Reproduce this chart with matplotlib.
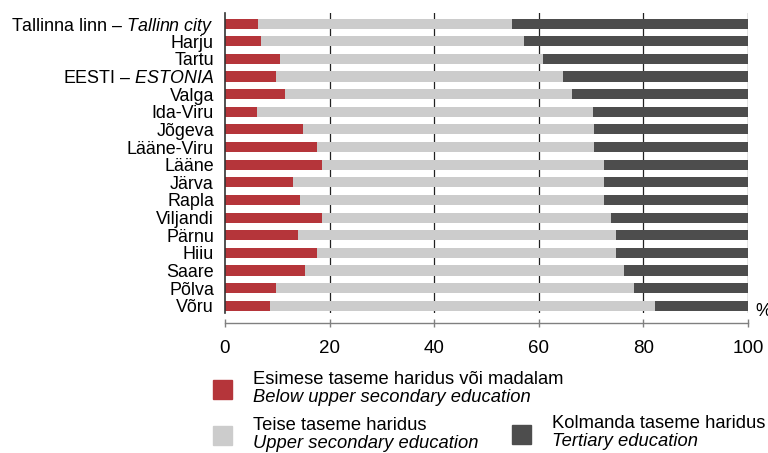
import matplotlib
matplotlib.use("Agg")
import matplotlib.pyplot as plt
from matplotlib.patches import Rectangle
import numpy as np

plt.rcParams['font.family'] = ['Liberation Sans', 'DejaVu Sans']
plt.rcParams['mathtext.fontset'] = 'custom'
plt.rcParams['mathtext.rm'] = 'Liberation Sans'
plt.rcParams['mathtext.it'] = 'Liberation Sans:italic'

# counties, top to bottom
regions = ["Tallinna linn – $\\mathit{Tallinn\\ city}$", "Harju", "Tartu",
           "EESTI – $\\mathit{ESTONIA}$", "Valga", "Ida-Viru", "Jõgeva",
           "Lääne-Viru", "Lääne", "Järva", "Rapla", "Viljandi", "Pärnu",
           "Hiiu", "Saare", "Põlva", "Võru"]

# share of population by education level, %
below_upper = [6.4, 6.9, 10.5, 9.8, 11.5, 6.1, 14.9, 17.6, 18.5, 13.0,
               14.3, 18.5, 14.0, 17.6, 15.3, 9.8, 8.6]
upper_secondary = [48.5, 50.3, 50.3, 54.8, 54.8, 64.3, 55.7, 53.0, 54.0,
                   59.5, 58.2, 55.3, 60.8, 57.2, 61.0, 68.4, 73.6]
tertiary = [100 - a - b for a, b in zip(below_upper, upper_secondary)]

legend_et = ["Esimese taseme haridus või madalam", "Teise taseme haridus",
             "Kolmanda taseme haridus"]
legend_en = ["Below upper secondary education", "Upper secondary education",
             "Tertiary education"]

c_red = '#B5353A'
c_gray = '#CCCCCC'
c_dark = '#4D4D4D'

fig = plt.figure(figsize=(7.68, 4.53), dpi=100)
ax = fig.add_axes([225 / 768, 1 - 313 / 453, 523 / 768, 300 / 453])

y = np.arange(len(regions))
left2 = np.array(below_upper)
left3 = left2 + np.array(upper_secondary)
h = 0.57
ax.barh(y, below_upper, height=h, color=c_red, zorder=3)
ax.barh(y, upper_secondary, left=left2, height=h, color=c_gray, zorder=3)
ax.barh(y, tertiary, left=left3, height=h, color=c_dark, zorder=3)

ax.set_xlim(0, 100)
ax.set_ylim(16.41, -0.6)
ax.set_yticks(y)
ax.set_yticklabels(regions, fontsize=12.9)
ax.tick_params(axis='y', length=0, pad=8)

ax.set_xticks([0, 20, 40, 60, 80, 100])
ax.tick_params(axis='x', direction='inout', length=6, width=1, color='#808080',
               labelsize=13.5, pad=9)
for xv in [20, 40, 60, 80, 100]:
    ax.axvline(xv, color='#222222', lw=0.9, zorder=1)

for s in ['top', 'right']:
    ax.spines[s].set_visible(False)
ax.spines['left'].set_color('#333333')
ax.spines['left'].set_linewidth(1.2)
ax.spines['left'].set_zorder(4)
ax.spines['bottom'].set_position(('outward', 7.5))
ax.spines['bottom'].set_color('#808080')
ax.spines['bottom'].set_linewidth(1)

fig.text(755 / 768, 1 - 311 / 453, "%", fontsize=13, va='center', ha='left')

# legend drawn by hand (two-language labels)
sq = 19
colors = [c_red, c_gray, c_dark]
boxes = [(213, 380), (213, 426), (512, 425)]
for col, (bx, by), et, en in zip(colors, boxes, legend_et, legend_en):
    fig.add_artist(Rectangle((bx / 768, 1 - (by + sq) / 453), sq / 768, sq / 453,
                             transform=fig.transFigure, color=col))
    tx = (bx + 40) / 768
    fig.text(tx, 1 - (by - 1) / 453, et, fontsize=13.2, va='center', ha='left')
    fig.text(tx, 1 - (by + 17) / 453, en, fontsize=13.2, style='italic',
             va='center', ha='left')

fig.savefig("out.png", dpi=100)
